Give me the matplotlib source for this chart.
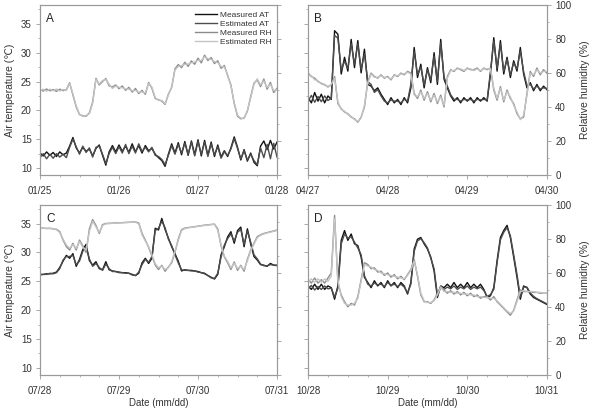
import numpy as np
import matplotlib
matplotlib.use("Agg")
import matplotlib.pyplot as plt
from matplotlib.ticker import MultipleLocator

plt.rcParams['font.family'] = ['Liberation Sans', 'DejaVu Sans']

# hourly readings, 3 days per panel (hour 0 .. 72)
day_labels_A = ['01/25', '01/26', '01/27', '01/28']
day_labels_B = ['04/27', '04/28', '04/29', '04/30']
day_labels_C = ['07/28', '07/29', '07/30', '07/31']
day_labels_D = ['10/28', '10/29', '10/30', '10/31']

# ---- panel A (winter) ----
at_meas_A = [12.6, 12.1, 12.8, 12.2, 12.7, 12.0, 12.8, 12.3, 12.6,
             13.8, 15.3, 13.5, 12.6, 13.6, 12.9, 13.3, 12.1,
             13.4, 14.0, 12.2, 10.5, 12.8, 13.9, 12.8, 14.0,
             12.9, 13.8, 12.7, 14.2, 12.8, 13.9, 12.6, 13.9,
             13.0, 13.4, 12.4, 11.8, 11.3, 10.3, 12.4, 14.2,
             12.6, 14.4, 12.3, 14.6, 12.2, 14.7, 12.3, 14.9,
             12.1, 14.8, 12.2, 14.5, 12.0, 14.0, 11.9, 13.0,
             12.0, 13.5, 15.4, 13.6, 11.4, 13.2, 11.2, 12.6,
             11.0, 10.4, 13.8, 14.7, 13.2, 14.8, 13.3, 14.5]
at_est_A = [11.8, 12.5, 11.6, 12.4, 11.7, 12.5, 11.9, 12.4, 11.8,
            13.6, 15.0, 13.7, 12.4, 13.8, 12.7, 13.5, 11.9,
            13.6, 13.8, 12.4, 10.8, 12.5, 13.6, 12.5, 13.7,
            12.6, 14.1, 12.5, 13.8, 12.6, 14.2, 12.9, 13.6,
            12.8, 13.6, 12.2, 12.0, 11.5, 10.6, 12.2, 13.9,
            12.4, 14.1, 12.6, 14.3, 12.4, 14.5, 12.1, 14.6,
            12.4, 14.5, 12.0, 14.2, 12.3, 13.7, 11.7, 12.8,
            12.2, 13.3, 15.1, 13.4, 11.6, 13.0, 11.4, 12.4,
            11.3, 10.6, 13.5, 11.8, 14.1, 11.6, 14.3, 11.9]
rh_meas_A = [50.2, 49.4, 50.6, 49.5, 50.3, 49.2, 50.5, 49.6, 50.1,
             54.3, 47.0, 40.0, 35.5, 34.8, 34.5, 36.5, 43.0,
             56.9, 53.0, 55.0, 56.8, 52.5, 51.8, 53.0, 50.8,
             52.4, 49.8, 51.6, 48.8, 50.9, 47.9, 49.8, 47.4,
             54.5, 51.0, 45.0, 44.2, 43.5, 41.5, 47.5, 51.5,
             62.5, 65.0, 63.2, 66.4, 64.0, 67.2, 65.2, 68.8,
             66.0, 70.6, 67.4, 69.2, 65.6, 67.3, 62.8, 64.5,
             58.5, 53.0, 42.0, 34.5, 33.0, 33.5, 37.5, 46.0,
             54.0, 56.0, 52.0, 56.5, 50.5, 54.5, 48.5, 51.0]
rh_est_A = [49.6, 50.4, 49.3, 50.5, 49.5, 50.6, 49.4, 50.3, 49.7,
            53.8, 47.8, 40.6, 35.8, 34.4, 34.9, 36.0, 42.2,
            56.3, 53.6, 55.6, 56.2, 53.4, 50.9, 52.4, 51.6,
            51.4, 50.6, 50.5, 49.6, 49.8, 48.7, 48.9, 48.2,
            54.0, 51.6, 45.6, 43.8, 43.9, 41.9, 47.0, 52.0,
            61.8, 63.9, 64.4, 65.2, 65.3, 66.1, 66.5, 67.6,
            67.4, 69.6, 68.5, 68.1, 66.8, 66.2, 63.9, 63.6,
            59.1, 52.4, 42.6, 35.1, 33.4, 33.1, 38.0, 45.4,
            53.4, 56.6, 53.0, 55.4, 51.5, 53.4, 49.6, 50.2]

# ---- panel B (spring) ----
at_meas_B = [22.2, 21.3, 23.1, 21.6, 22.8, 21.3, 22.5, 21.9,
             33.8, 33.2, 26.3, 29.2, 26.8, 32.3, 27.4, 32.1, 26.5, 30.6, 24.5,
             24.2, 23.4, 23.9, 22.8,
             21.9, 21.0, 22.2, 21.3, 21.9, 21.0, 22.2, 21.3,
             23.9, 30.9, 25.7, 28.0, 23.9, 27.4, 24.8, 30.0, 24.5, 32.3, 25.4, 23.9,
             22.5, 21.6, 22.2, 21.3, 22.2, 21.6, 22.2, 21.3, 22.2, 21.6, 22.2, 21.6,
             26.3, 32.6, 26.8, 32.1, 26.3, 29.2, 25.7, 28.6, 26.8, 30.9, 26.3, 23.9,
             24.8, 23.4, 24.5, 23.4, 24.2, 23.6]
at_est_B = [21.6, 22.6, 21.4, 22.4, 21.5, 22.5, 21.7, 22.1,
            33.0, 32.5, 27.0, 28.5, 27.3, 31.6, 28.0, 31.5, 27.1, 29.8, 25.0,
            24.5, 23.1, 23.6, 22.5,
            21.6, 21.3, 21.8, 21.6, 21.6, 21.3, 21.9, 21.6,
            24.5, 30.2, 26.2, 27.5, 24.4, 27.0, 25.3, 29.4, 25.0, 31.7, 25.8, 24.2,
            22.7, 21.9, 21.9, 21.6, 21.9, 21.8, 21.9, 21.6, 21.9, 21.8, 21.9, 21.8,
            26.8, 32.0, 27.3, 31.5, 26.8, 28.8, 26.2, 28.2, 27.2, 30.3, 26.7, 24.3,
            24.5, 23.7, 24.2, 23.7, 23.9, 23.8]
rh_meas_B = [60, 58, 57, 55, 54, 53, 52, 53,
             58, 42, 39, 37, 36, 34, 33, 31, 34, 40, 55, 60,
             58, 57, 59, 57, 58, 56, 59, 58, 60, 59, 61,
             60, 48, 45, 50, 44, 49, 43, 48, 42, 47, 40, 58,
             62, 61, 63, 62, 61, 63, 62, 62, 63, 61, 63, 62,
             63, 50, 44, 52, 43, 50, 45, 42, 36, 33, 34, 48,
             61, 58, 63, 59, 62, 60]
rh_est_B = [59, 58.5, 56, 55.5, 53.5, 53.5, 51.5, 53.5,
            57, 43, 38.5, 37.5, 35.5, 34.5, 32.5, 31.5, 33.5, 41, 54, 59.5,
            57.5, 57.5, 58.5, 57.5, 57.5, 56.5, 58.5, 58.5, 59.5, 59.5, 60.5,
            59.5, 47, 46, 49, 45, 48, 44, 47, 43, 46, 41, 57,
            61.5, 61.5, 62.5, 62.5, 61.5, 62.5, 62.5, 61.5, 62.5, 61.5, 62.5, 62.5,
            62.5, 51, 45, 51, 44, 49, 46, 41, 37, 32.5, 35, 47,
            60, 59, 62, 60, 61, 61]

# ---- panel C (summer) ----
at_meas_C = [26.2, 26.2, 26.3, 26.3, 26.4, 26.6, 27.4, 28.5, 29.5, 29.0,
             29.8, 27.6, 28.8, 30.5, 31.4, 28.6, 27.8, 28.4, 27.2, 27.0,
             28.4, 27.0, 26.8, 26.7, 26.6, 26.5, 26.5, 26.4, 26.2, 26.0,
             26.4, 28.2, 29.0, 28.1, 29.0, 34.2, 33.9, 35.9, 34.0, 32.5,
             31.0, 29.8, 28.5, 26.8, 27.0, 26.9, 26.9, 26.8, 26.7, 26.5,
             26.4, 26.0, 25.7, 25.4, 26.2, 29.6, 31.0, 32.7, 33.6, 31.6,
             33.8, 34.4, 31.0, 34.1, 31.5, 29.3, 28.7, 27.9, 27.8, 27.6,
             28.1, 27.8, 27.8]
at_est_C = [26.1, 26.2, 26.2, 26.4, 26.3, 26.5, 27.2, 28.7, 29.3, 29.3,
            29.5, 27.9, 28.5, 30.2, 31.0, 28.9, 27.6, 28.1, 27.4, 26.9,
            28.0, 27.2, 26.7, 26.7, 26.5, 26.5, 26.4, 26.4, 26.1, 26.0,
            26.6, 27.9, 28.8, 28.3, 29.3, 33.8, 34.2, 35.4, 34.3, 32.3,
            31.2, 29.6, 28.2, 27.0, 26.9, 26.9, 26.8, 26.8, 26.6, 26.5,
            26.3, 26.0, 25.6, 25.5, 26.4, 29.2, 31.3, 32.4, 33.2, 32.0,
            33.5, 34.0, 31.4, 33.7, 31.8, 29.6, 28.9, 28.0, 27.7, 27.7,
            27.9, 27.8, 27.7]
rh_meas_C = [86.3, 86.5, 86.2, 86.4, 86.0, 85.8,
             84.4, 79.4, 75.5, 73.5, 77.5, 73.5, 79.4, 76.0, 72.0, 86.0, 91.5, 88.0, 83.3, 88.5,
             89.2, 89.3, 89.4, 89.5, 89.6, 89.7, 89.8, 89.9, 90.0, 90.1, 89.5,
             83.3, 79.4, 75.0, 70.0, 64.7, 62.0, 64.5, 61.0, 63.5, 66.0, 72.0, 80.0, 85.5, 86.5,
             86.8, 87.0, 87.3, 87.6, 87.9, 88.2, 88.4, 88.6, 88.8,
             86.0, 76.0, 69.5, 66.0, 62.0, 66.5, 61.5, 64.5, 61.0, 68.0, 73.5, 77.5, 81.4,
             82.5, 83.3, 83.8, 84.3, 84.8, 85.3]
rh_est_C = [86.0, 86.4, 86.4, 86.1, 86.2, 85.5,
            83.8, 80.0, 76.5, 74.5, 76.8, 74.5, 78.6, 75.2, 73.5, 84.5, 90.5, 87.2, 84.0, 88.0,
            89.0, 89.1, 89.3, 89.4, 89.5, 89.6, 89.7, 89.8, 89.9, 90.0, 89.0,
            82.5, 78.8, 75.5, 70.8, 65.5, 63.0, 64.0, 62.0, 63.0, 66.8, 72.8, 79.2, 85.0, 86.2,
            86.6, 86.9, 87.2, 87.5, 87.8, 88.0, 88.3, 88.5, 88.7,
            85.2, 76.8, 70.0, 66.8, 63.0, 65.8, 62.5, 64.0, 62.0, 67.2, 73.0, 77.0, 80.8,
            82.2, 83.0, 83.6, 84.0, 84.6, 85.0]

# ---- panel D (autumn) ----
at_meas_D = [24.2, 23.6, 24.5, 23.6, 24.5, 23.6, 24.2, 23.9,
             21.9, 24.2, 32.1, 33.8, 32.1, 33.2, 31.5, 31.2, 29.2, 25.7,
             24.8, 23.9, 25.1, 24.2, 24.8, 23.9, 25.1, 24.2, 24.8, 23.9, 24.8, 24.2,
             22.8, 24.8, 30.6, 32.3, 32.6, 31.5, 30.6, 29.2, 26.8, 22.2, 24.2,
             23.9, 24.5, 23.9, 24.8, 23.9, 24.5, 23.9, 24.8, 23.9, 24.5, 23.9, 24.5, 23.6,
             22.2, 22.5, 23.9, 28.6, 32.6, 33.8, 34.7, 32.6, 29.2, 25.7,
             21.9, 24.2, 23.9, 22.8, 22.2, 21.9, 21.6, 21.3, 21.0]
at_est_D = [23.7, 24.3, 23.5, 24.1, 23.6, 24.2, 23.7, 23.8,
            22.3, 23.8, 31.5, 33.2, 32.5, 32.7, 31.8, 30.8, 29.6, 26.0,
            24.5, 24.2, 24.7, 24.4, 24.5, 24.1, 24.8, 24.3, 24.5, 24.1, 24.5, 24.0,
            23.0, 24.5, 30.2, 32.0, 32.4, 31.7, 30.8, 29.0, 27.2, 22.6, 24.0,
            23.6, 24.0, 23.7, 24.2, 23.6, 24.0, 23.7, 24.2, 23.6, 24.0, 23.7, 24.0, 23.4,
            22.4, 22.7, 23.6, 28.2, 32.2, 33.5, 34.3, 32.9, 29.6, 26.2,
            22.3, 24.0, 24.0, 23.0, 22.4, 22.0, 21.7, 21.4, 21.1]
rh_meas_D = [56, 54, 57, 54, 56, 54, 57, 60,
             94, 54, 47, 43, 40, 42, 41, 46, 56, 66,
             65, 62.5, 63, 60.5, 61, 58.5, 60, 57.5, 59, 56.5, 58, 56,
             59, 62, 68, 58, 47, 43, 43, 42, 44, 48, 52,
             50, 48, 49.5, 47.5, 49, 47, 48.5, 46.5, 48, 46, 47, 45, 46,
             46, 44, 46, 43, 41, 39, 37, 35, 38, 44,
             50, 49, 49, 49, 48.5, 48.5, 48, 48, 48]
rh_est_D = [54.5, 56.5, 54.5, 56.5, 54.5, 56.5, 55, 58,
            92, 56, 46, 42, 41, 41, 42, 45, 55, 65,
            64, 63.5, 62, 61.5, 60, 59.5, 59, 58.5, 58, 57.5, 57, 56.5,
            58.5, 61.5, 67, 59, 48, 43.5, 42.5, 42.5, 43.5, 47, 51.5,
            49, 49, 48.5, 48.5, 48, 48, 47.5, 47.5, 47, 47, 46, 46, 45.5,
            45.5, 45, 45, 43.5, 41.5, 39.5, 37.5, 36, 37.5, 43,
            49, 49.5, 49, 49, 49, 48.5, 48.5, 48, 48]

panels = [
    ('A', day_labels_A, at_meas_A, at_est_A, rh_meas_A, rh_est_A),
    ('B', day_labels_B, at_meas_B, at_est_B, rh_meas_B, rh_est_B),
    ('C', day_labels_C, at_meas_C, at_est_C, rh_meas_C, rh_est_C),
    ('D', day_labels_D, at_meas_D, at_est_D, rh_meas_D, rh_est_D),
]

positions = [[0.067, 0.576, 0.397, 0.411],
             [0.516, 0.576, 0.400, 0.411],
             [0.067, 0.091, 0.397, 0.411],
             [0.516, 0.091, 0.400, 0.411]]

c_meas_at = '#111111'
c_est_at = '#4d4d4d'
c_meas_rh = '#8c8c8c'
c_est_rh = '#c4c4c4'
spine_c = '#9a9a9a'
txt_c = '#333333'

fig = plt.figure(figsize=(5.97, 4.12), dpi=100)

for i, (letter, days, atm, ate, rhm, rhe) in enumerate(panels):
    ax = fig.add_axes(positions[i])
    ax2 = ax.twinx()

    h1 = ax.plot(np.arange(len(atm)), atm, color=c_meas_at, lw=1.0, label='Measured AT')[0]
    h2 = ax.plot(np.arange(len(ate)), ate, color=c_est_at, lw=1.0, label='Estimated AT')[0]
    h3 = ax2.plot(np.arange(len(rhm)), rhm, color=c_meas_rh, lw=1.0, label='Measured RH')[0]
    h4 = ax2.plot(np.arange(len(rhe)), rhe, color=c_est_rh, lw=1.0, label='Estimated RH')[0]

    ax.set_xlim(0, 72)
    ax.set_ylim(8.85, 38.2)
    ax2.set_ylim(0, 100)
    ax.set_xticks([0, 24, 48, 72])
    ax.set_xticklabels(days)
    ax.xaxis.set_minor_locator(MultipleLocator(6))
    ax.yaxis.set_major_locator(MultipleLocator(5))
    ax.yaxis.set_minor_locator(MultipleLocator(2.5))
    ax2.yaxis.set_major_locator(MultipleLocator(20))
    ax2.yaxis.set_minor_locator(MultipleLocator(10))

    for a in (ax, ax2):
        for s in a.spines.values():
            s.set_color(spine_c)
            s.set_linewidth(0.8)
        a.tick_params(which='major', direction='out', length=3, width=0.6,
                      color=spine_c, labelsize=7, labelcolor=txt_c, pad=3)
        a.tick_params(which='minor', direction='out', length=1.6, width=0.5, color=spine_c)
    ax.tick_params(axis='x', pad=5)

    left_col = (i % 2 == 0)
    if left_col:
        ax2.tick_params(axis='y', which='both', labelright=False)
        ax.set_ylabel('Air temperature (\u2103)', fontsize=7.5, color=txt_c, labelpad=4)
    else:
        ax.tick_params(axis='y', which='both', labelleft=False)
        ax2.set_ylabel('Relative humidity (%)', fontsize=7.5, color=txt_c, labelpad=6)

    if i >= 2:
        ax.set_xlabel('Date (mm/dd)', fontsize=7, color=txt_c, labelpad=2)

    ax.text(0.025, 0.955, letter, transform=ax.transAxes, fontsize=8.5,
            color='#222222', va='top', ha='left')

    if letter == 'A':
        ax2.legend(handles=[h1, h2, h3, h4], loc='upper right', fontsize=6,
                   frameon=False, handlelength=2.6, labelspacing=0.15,
                   handletextpad=0.4, borderaxespad=0.25, labelcolor=txt_c)

fig.savefig('out.png', dpi=100)
